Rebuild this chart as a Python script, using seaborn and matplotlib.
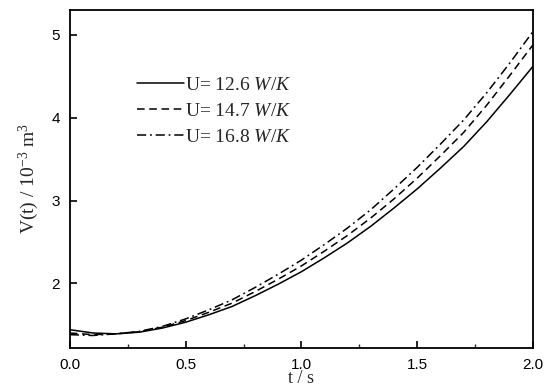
import numpy as np
import pandas as pd
import matplotlib
matplotlib.use("Agg")
import matplotlib.pyplot as plt
import seaborn as sns
from matplotlib.ticker import MultipleLocator

t = [0.0, 0.1, 0.2, 0.3, 0.4, 0.5, 0.6, 0.7, 0.8, 0.9, 1.0,
     1.1, 1.2, 1.3, 1.4, 1.5, 1.6, 1.7, 1.8, 1.9, 2.0]
v_126 = [1.44, 1.40, 1.39, 1.41, 1.46, 1.53, 1.62, 1.72, 1.85, 1.99, 2.14,
         2.31, 2.49, 2.69, 2.91, 3.14, 3.39, 3.65, 3.95, 4.28, 4.62]
v_147 = [1.40, 1.38, 1.39, 1.415, 1.47, 1.55, 1.65, 1.76, 1.90, 2.05, 2.21,
         2.39, 2.58, 2.79, 3.02, 3.27, 3.54, 3.82, 4.15, 4.51, 4.88]
v_168 = [1.38, 1.37, 1.39, 1.42, 1.48, 1.57, 1.68, 1.80, 1.95, 2.11, 2.28,
         2.47, 2.67, 2.89, 3.14, 3.40, 3.68, 3.97, 4.30, 4.66, 5.04]
labels = ["U= 12.6 $\\mathit{W/K}$", "U= 14.7 $\\mathit{W/K}$", "U= 16.8 $\\mathit{W/K}$"]
xticks = [0.0, 0.5, 1.0, 1.5, 2.0]
yticks = [2, 3, 4, 5]

df = pd.concat([
    pd.DataFrame({"t": t, "V": v, "U": lab})
    for v, lab in zip([v_126, v_147, v_168], labels)
])

sns.set_style("ticks")
plt.rcParams["font.family"] = ["Liberation Sans", "DejaVu Sans"]
plt.rcParams["mathtext.fontset"] = "custom"
plt.rcParams["mathtext.rm"] = "Liberation Serif"
plt.rcParams["mathtext.it"] = "Liberation Serif:italic"

fig = plt.figure(figsize=(5.5, 3.87), dpi=100)
ax = fig.add_axes([0.127, 0.101, 0.842, 0.873])

dashes = {labels[0]: "", labels[1]: (5, 3), labels[2]: (6, 2.5, 1.2, 2.5)}
sns.lineplot(data=df, x="t", y="V", hue="U", style="U", dashes=dashes,
             palette=["black"] * 3, linewidth=1.1, ax=ax, legend="full")

ax.set_xlim(0, 2.0)
ax.set_ylim(1.22, 5.30)
ax.set_xticks(xticks)
ax.set_xticklabels([f"{x:.1f}" for x in xticks])
ax.set_yticks(yticks)
ax.set_yticklabels([str(y) for y in yticks])
ax.xaxis.set_minor_locator(MultipleLocator(0.25))
ax.tick_params(axis="both", which="major", direction="in", length=5, width=1.2,
               labelsize=11, colors="black", pad=7)
ax.tick_params(axis="x", which="minor", direction="in", length=3, width=1.0)
for s in ax.spines.values():
    s.set_visible(True)
    s.set_linewidth(1.3)
    s.set_color("black")

ax.set_xlabel("t / s", family="Liberation Serif", fontsize=13, labelpad=-1)
ax.set_ylabel("V(t) / 10$^{-3}$ m$^{3}$", family="Liberation Serif", fontsize=14, labelpad=8)

handles, labs = ax.get_legend_handles_labels()
leg = ax.legend(handles, labs, loc="upper left", bbox_to_anchor=(0.128, 0.828),
                frameon=False, prop={"family": "Liberation Serif", "size": 14},
                handlelength=2.4, handletextpad=0.05, labelspacing=0.45,
                borderaxespad=0)

fig.savefig("out.png", dpi=100)
